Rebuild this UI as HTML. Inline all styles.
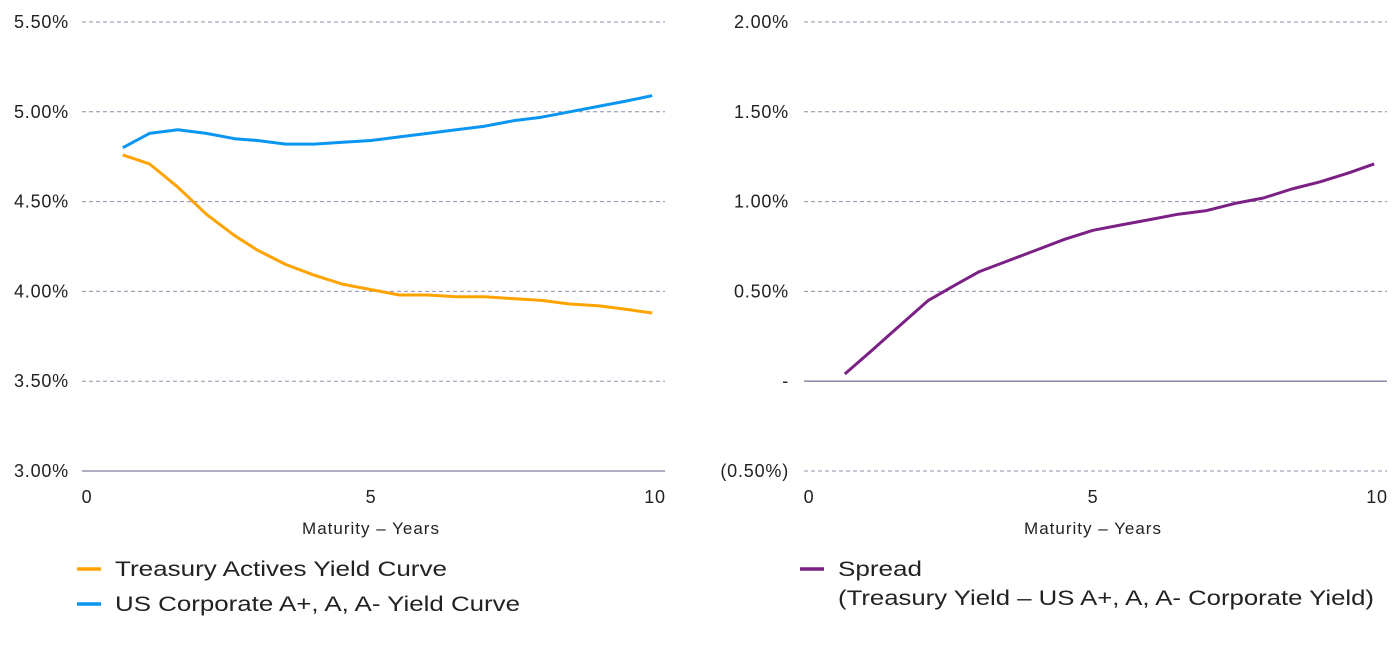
<!DOCTYPE html>
<html><head><meta charset="utf-8"><style>
html,body{margin:0;padding:0;background:#fff;}
svg text{font-family:"Liberation Sans",sans-serif;fill:#222;}
</style></head><body>
<svg width="1400" height="640" viewBox="0 0 1400 640" id="chart"></svg>
<script>
const maturities=[0.63,1.1,1.6,2.1,2.6,3.0,3.5,4.0,4.5,5.0,5.5,6.0,6.5,7.0,7.5,8.0,8.5,9.0,9.5,9.95];
const treasury=[4.76,4.71,4.58,4.43,4.31,4.23,4.15,4.09,4.04,4.01,3.98,3.98,3.97,3.97,3.96,3.95,3.93,3.92,3.90,3.88];
const corporate=[4.80,4.88,4.90,4.88,4.85,4.84,4.82,4.82,4.83,4.84,4.86,4.88,4.90,4.92,4.95,4.97,5.00,5.03,5.06,5.09];
const spread=[0.04,0.17,0.31,0.45,0.54,0.61,0.67,0.73,0.79,0.84,0.87,0.90,0.93,0.95,0.99,1.02,1.07,1.11,1.16,1.21];
const leftTicks=[3.0,3.5,4.0,4.5,5.0,5.5];
const leftTickLabels=["3.00%","3.50%","4.00%","4.50%","5.00%","5.50%"];
const rightTicks=[-0.5,0,0.5,1.0,1.5,2.0];
const rightTickLabels=["(0.50%)","-","0.50%","1.00%","1.50%","2.00%"];
const xTicks=[0,5,10];

const NS="http://www.w3.org/2000/svg";
const svg=document.getElementById('chart');
function mk(tag,attrs,parent){const e=document.createElementNS(NS,tag);for(const k in attrs)e.setAttribute(k,attrs[k]);(parent||svg).appendChild(e);return e;}
function txt(x,y,s,anchor,size,parent,ls){const t=mk('text',{x:x,y:y,'text-anchor':anchor,'font-size':size,'letter-spacing':ls||0},parent);t.textContent=s;return t;}

function panel(o){
  const g=mk('g',{});
  
  
  const xs=v=>o.x0+(v-0)/10*(o.x1-o.x0);
  const ys=v=>o.yb+(v-o.ymin)/(o.ymax-o.ymin)*(o.yt-o.yb);
  o.ticks.forEach((t,i)=>{
    const solid=(t===o.baseline);
    const l=mk('line',{x1:o.x0-5,x2:o.x1+10,y1:ys(t),y2:ys(t),stroke:solid?'#7f7f9f':'#8e8eaa','stroke-width':solid?1.3:1,'stroke-dasharray':solid?'none':'4,3'},g);
    
    
    const lb=txt(o.labelX,ys(t)+6,o.labels[i],'end',18,g,0.8);
    
    
  });
  xTicks.forEach(t=>{
    const lb=txt(xs(t),503,String(t),'middle',18,g,0.8);
    
    
  });
  const ti=txt((o.x0+o.x1)/2,534,'Maturity – Years','middle',17,g,1);
  
  
  o.series.forEach(s=>{
    const d=maturities.map((m,i)=>(i?'L':'M')+xs(m).toFixed(1)+','+ys(s.vals[i]).toFixed(1)).join('');
    const p=mk('path',{d:d,fill:'none',stroke:s.color,'stroke-width':3,'stroke-linejoin':'round'},g);
    
    
  });
}
panel({name:'left-yield-chart',x0:87,x1:655,yb:471,yt:22,ymin:3.0,ymax:5.5,ticks:leftTicks,labels:leftTickLabels,baseline:3.0,labelX:69,
  series:[{name:'treasury-line',vals:treasury,color:'#FFA300'},{name:'corporate-line',vals:corporate,color:'#0A96F0'}]});
panel({name:'right-spread-chart',x0:809,x1:1377,yb:471,yt:22,ymin:-0.5,ymax:2.0,ticks:rightTicks,labels:rightTickLabels,baseline:0,labelX:789,
  series:[{name:'spread-line',vals:spread,color:'#7B2185'}]});

function legend(x,y,color,lines,widths,name){
  const g=mk('g',{});
  
  
  mk('line',{x1:x,x2:x+24,y1:y,y2:y,stroke:color,'stroke-width':3.5},g);
  lines.forEach((s,i)=>{const t=txt(x+38,y+7+i*29,s,'start',21,g);t.setAttribute('textLength',widths[i]);t.setAttribute('lengthAdjust','spacingAndGlyphs');});
}
legend(77,569,'#FFA300',['Treasury Actives Yield Curve'],[332],'legend-treasury');
legend(77,604,'#0A96F0',['US Corporate A+, A, A- Yield Curve'],[405],'legend-corporate');
legend(800,569,'#7B2185',['Spread','(Treasury Yield – US A+, A, A- Corporate Yield)'],[84,536],'legend-spread');
</script>
</body></html>
